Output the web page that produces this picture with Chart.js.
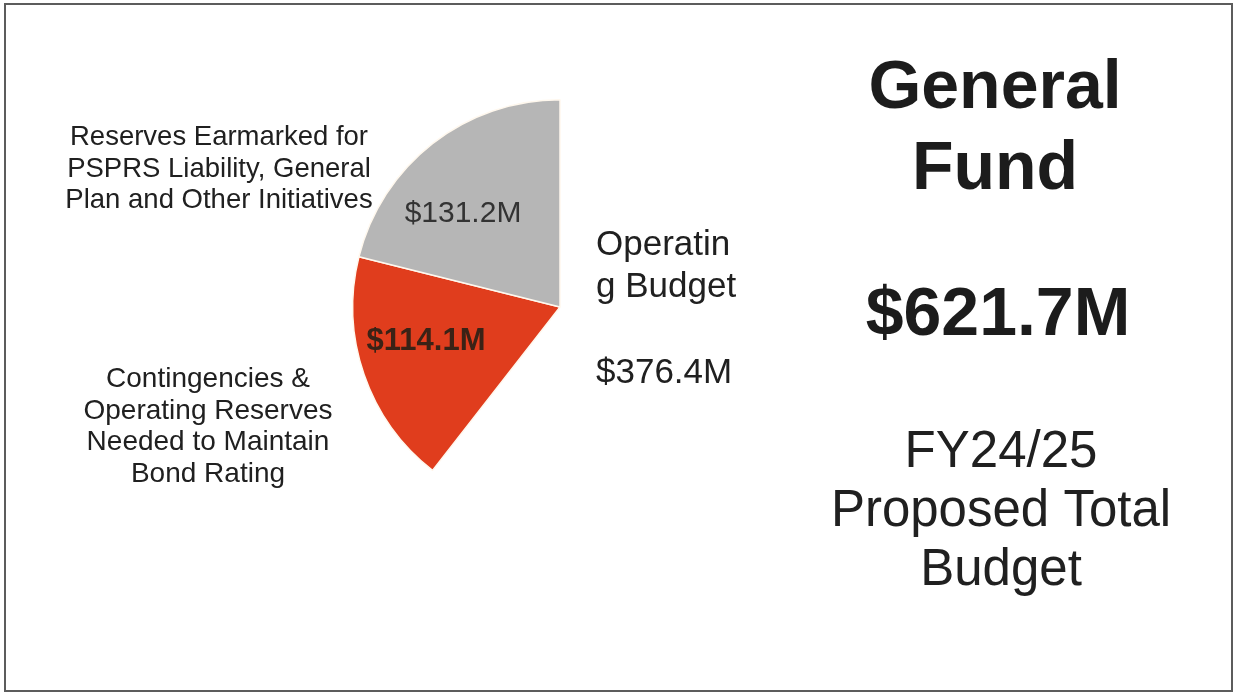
<!DOCTYPE html>
<html>
<head>
<meta charset="utf-8">
<title>General Fund</title>
<script src="https://cdn.jsdelivr.net/npm/chart.js@4.4.1/dist/chart.umd.min.js"></script>
<style>
  html, body { margin: 0; padding: 0; background: #fff; }
  #wrap { position: relative; width: 1235px; height: 695px; }
  #wrap canvas { position: absolute; left: 0; top: 0; }
  #frame {
    position: absolute; left: 4px; top: 3px;
    width: 1225px; height: 685px;
    border: 2px solid #5c5c5c;
    pointer-events: none;
  }
</style>
</head>
<body>
<div id="wrap">
  <canvas id="fundChart" width="1235" height="695"></canvas>
  <div id="frame"></div>
</div>
<script>
// Slice data, clockwise from 12 o'clock
const categories = [
    ['Operatin', 'g Budget'],
    ['Contingencies &', 'Operating Reserves', 'Needed to Maintain', 'Bond Rating'],
    ['Reserves Earmarked for', 'PSPRS Liability, General', 'Plan and Other Initiatives']
];
const amounts = [376.4, 114.1, 131.2]; // $ millions
const sliceColors = ['#ffffff', '#e03d1d', '#b6b6b6'];

// Side panel text
const titleLines = ['General', 'Fund'];
const subtitleLines = ['FY24/25', 'Proposed Total', 'Budget'];

const FONT = '"Liberation Sans", Arial, Helvetica, sans-serif';
const money = v => '$' + v.toFixed(1) + 'M';
const total = amounts.reduce((a, b) => a + b, 0);

// Draws the category names, slice values and the title block
const textPlugin = {
    id: 'fundText',
    afterDraw(chart) {
        const ctx = chart.ctx;
        const meta = chart.getDatasetMeta(0);
        const cx = meta.data[0].x;
        const cy = meta.data[0].y;

        function lines(list, x, y, lh, font, color, align) {
            ctx.font = font;
            ctx.fillStyle = color;
            ctx.textAlign = align;
            ctx.textBaseline = 'alphabetic';
            list.forEach((t, i) => ctx.fillText(t, x, y + i * lh));
        }

        ctx.save();

        // Operating budget (white slice) label sits to the right of the pie
        lines(categories[0], cx + 36, cy - 52, 42, '35px ' + FONT, '#202020', 'left');
        lines([money(amounts[0])], cx + 36, cy + 76, 0, '35px ' + FONT, '#202020', 'left');

        // Contingencies label + value inside the red slice
        lines(categories[1], cx - 352, cy + 80, 31.7, '28px ' + FONT, '#202020', 'center');
        lines([money(amounts[1])], cx - 134, cy + 43, 0, 'bold 31px ' + FONT, '#3a2216', 'center');

        // Reserves label + value inside the gray slice
        lines(categories[2], cx - 341, cy - 162, 31.5, '27.5px ' + FONT, '#202020', 'center');
        lines([money(amounts[2])], cx - 97, cy - 85, 0, '30px ' + FONT, '#333333', 'center');

        // Title block on the right
        lines(titleLines, 995, 108, 81, 'bold 68px ' + FONT, '#1c1c1c', 'center');
        lines([money(total)], 998, 335, 0, 'bold 68px ' + FONT, '#1c1c1c', 'center');
        lines(subtitleLines, 1001, 467, 59, '51px ' + FONT, '#202020', 'center');

        ctx.restore();
    }
};

const ctx = document.getElementById('fundChart').getContext('2d');
new Chart(ctx, {
    type: 'pie',
    data: {
        labels: categories,
        datasets: [{
            data: amounts,
            backgroundColor: sliceColors,
            borderColor: ['#ffffff', '#fff8ee', '#fff8ee'],
            borderWidth: [0, 1.5, 1.5]
        }]
    },
    options: {
        responsive: false,
        animation: false,
        devicePixelRatio: 1,
        layout: {
            // puts the pie at centre (560, 307) with a 207px radius
            padding: { left: 352, top: 99, right: 467, bottom: 180 }
        },
        plugins: {
            legend: { display: false },
            tooltip: { enabled: false }
        }
    },
    plugins: [textPlugin]
});
</script>
</body>
</html>
